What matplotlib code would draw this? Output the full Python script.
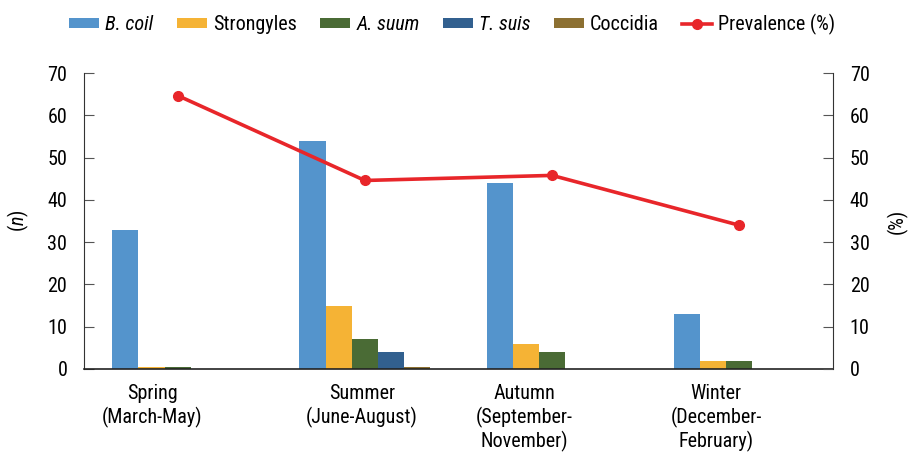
import matplotlib
matplotlib.use("Agg")
import matplotlib.pyplot as plt
from matplotlib import font_manager
import numpy as np

families = set(f.name for f in font_manager.fontManager.ttflist)
FONT = "DejaVu Sans"
for cand in ["Liberation Sans Narrow", "Arial Narrow", "Roboto Condensed", "Archivo Narrow",
             "PT Sans Narrow", "Pragati Narrow", "Liberation Sans"]:
    if cand in families:
        FONT = cand
        break
plt.rcParams['font.family'] = [FONT, 'DejaVu Sans']
plt.rcParams['mathtext.fontset'] = 'custom'
plt.rcParams['mathtext.it'] = FONT + ':italic'
plt.rcParams['mathtext.rm'] = FONT

seasons = ["Spring\n(March-May)", "Summer\n(June-August)", "Autumn\n(September-\nNovember)", "Winter\n(December-\nFebruary)"]
label_offsets = [-0.137, -0.015, -0.15, -0.125]
series_names = ["B. coil", "Strongyles", "A. suum", "T. suis", "Coccidia"]
b_coli = [33, 54, 44, 13]
strongyles = [0.5, 15, 6, 2]
a_suum = [0.5, 7, 4, 2]
t_suis = [0, 4, 0, 0]
coccidia = [0, 0.5, 0, 0]
prevalence = [64.7, 44.6, 45.8, 34.0]

colors = ["#5494CC", "#F5B335", "#4A6B35", "#32608F", "#8C7032"]
italic = [True, False, True, True, False]
FS = 14.5

fig = plt.figure(figsize=(9.1, 4.57), dpi=100)
ax = fig.add_axes([0.0923, 0.1926, 0.8231, 0.6474])
x = np.arange(len(seasons))
w = 0.14
all_series = [b_coli, strongyles, a_suum, t_suis, coccidia]
handles = []
for i, (vals, c) in enumerate(zip(all_series, colors)):
    h = ax.bar(x + (i - 2) * w, vals, width=w, color=c, label=series_names[i], zorder=2)
    handles.append(h)

ax.set_xlim(-0.5, 3.5)
ax.set_ylim(0, 70)
ax.set_yticks(range(0, 71, 10))
ax.set_xticks(x + np.array(label_offsets))
ax.set_xticklabels(seasons, fontsize=FS, linespacing=1.2)
ax.tick_params(axis='x', length=0, pad=11)
ax.tick_params(axis='y', direction='in', length=7, labelsize=FS, pad=12, color='#555555')
for s in ["top", "right"]:
    ax.spines[s].set_visible(False)
ax.spines["left"].set_color('#333333')
ax.spines["bottom"].set_color('#222222')
ax.spines["bottom"].set_linewidth(1.2)
ax.set_ylabel("($\\it{n}$)", fontsize=FS, labelpad=12)

ax2 = ax.twinx()
ax2.set_ylim(0, 70)
ax2.set_yticks(range(0, 71, 10))
ax2.tick_params(axis='y', direction='in', length=7, labelsize=FS, pad=12, color='#555555')
for s in ["top", "left", "bottom"]:
    ax2.spines[s].set_visible(False)
ax2.spines["right"].set_color('#333333')
line, = ax2.plot(x, prevalence, color="#E8262A", lw=2.6, marker='o', ms=7, label="Prevalence (%)", zorder=3)
ax2.set_ylabel("(%)", fontsize=FS, labelpad=12, rotation=90)

leg = fig.legend(handles + [line], series_names + ["Prevalence (%)"], loc='upper center',
                 bbox_to_anchor=(0.497, 1.01), ncol=6, frameon=False, fontsize=FS,
                 handlelength=1.5, handleheight=0.4, handletextpad=0.3, columnspacing=1.15)
for t, it in zip(leg.get_texts(), italic + [False]):
    if it:
        t.set_style('italic')

fig.savefig("out.png", dpi=100)
